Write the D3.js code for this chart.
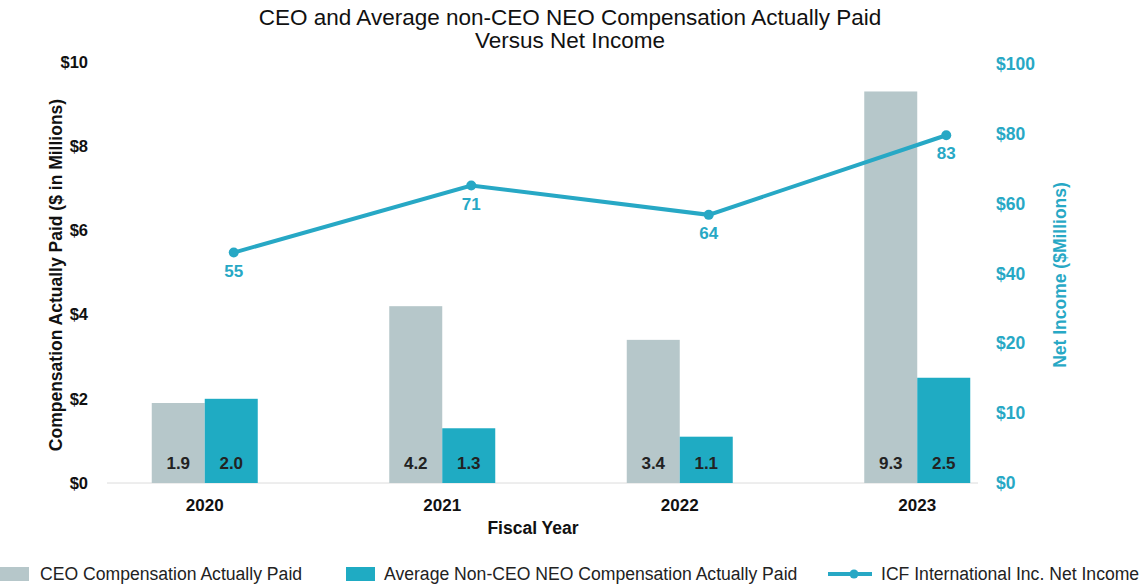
<!DOCTYPE html>
<html>
<head>
<meta charset="utf-8">
<script src="https://cdn.jsdelivr.net/npm/d3@7"></script>
<style>
  body { margin: 0; background: #fff; }
  text { font-family: "Liberation Sans", Arial, sans-serif; }
</style>
</head>
<body>
<div id="chart"></div>
<script>
const years = ['2020', '2021', '2022', '2023'];
const ceoPaid = [1.9, 4.2, 3.4, 9.3];
const neoPaid = [2.0, 1.3, 1.1, 2.5];
const netIncome = [55, 71, 64, 83];
const leftTicks = [0, 2, 4, 6, 8, 10];
const rightTickLabels = ['$0', '$10', '$20', '$40', '$60', '$80', '$100'];

const grey = '#b6c7ca';
const teal = '#1fabc3';
const lineColor = '#27a8c5';

const width = 1142, height = 586;
const plotTop = 62, plotBottom = 483;

const svg = d3.select('#chart').append('svg')
  .attr('width', width)
  .attr('height', height);

// title
svg.append('text').attr('x', 570).attr('y', 25).attr('text-anchor', 'middle')
  .style('font-size', '22.5px').style('fill', '#111')
  .text('CEO and Average non-CEO NEO Compensation Actually Paid');
svg.append('text').attr('x', 570).attr('y', 48).attr('text-anchor', 'middle')
  .style('font-size', '22.5px').style('fill', '#111')
  .text('Versus Net Income');

const x = d3.scaleBand().domain(years).range([86, 1036]);
const yLeft = d3.scaleLinear().domain([0, 10]).range([plotBottom, plotTop]);
const yRight = d3.scaleLinear().domain([0, 100]).range([plotBottom, 64]);
const yRightLabels = d3.scalePoint().domain(rightTickLabels).range([plotBottom, 64]);
const barW = 53;

// baseline
svg.append('line')
  .attr('x1', 107).attr('x2', 978)
  .attr('y1', plotBottom).attr('y2', plotBottom)
  .style('stroke', '#dcdcdc').style('stroke-width', 1);

// left axis
const gl = svg.append('g')
  .attr('transform', 'translate(107,0)')
  .call(d3.axisLeft(yLeft).tickValues(leftTicks).tickFormat(d => '$' + d).tickSize(0).tickPadding(19));
gl.select('.domain').remove();
gl.selectAll('text').style('font-size', '16.5px').style('font-weight', 'bold').style('fill', '#111')
  .style('font-family', '"Liberation Sans", Arial, sans-serif');

// right axis
const gr = svg.append('g')
  .attr('transform', 'translate(978,0)')
  .call(d3.axisRight(yRightLabels).tickSize(0).tickPadding(18));
gr.select('.domain').remove();
gr.selectAll('text').style('font-size', '17.5px').style('font-weight', 'bold').style('fill', lineColor)
  .style('font-family', '"Liberation Sans", Arial, sans-serif');

// x axis
const gx = svg.append('g')
  .attr('transform', 'translate(0,' + plotBottom + ')')
  .call(d3.axisBottom(x).tickSize(0).tickPadding(16));
gx.select('.domain').remove();
gx.selectAll('text').style('font-size', '17px').style('font-weight', 'bold').style('fill', '#111')
  .style('font-family', '"Liberation Sans", Arial, sans-serif');

// axis titles
svg.append('text')
  .attr('transform', 'translate(62,275) rotate(-90)')
  .attr('text-anchor', 'middle')
  .style('font-size', '17.5px').style('font-weight', 'bold').style('fill', '#111')
  .text('Compensation Actually Paid ($ in Millions)');
svg.append('text')
  .attr('transform', 'translate(1066,275) rotate(-90)')
  .attr('text-anchor', 'middle')
  .style('font-size', '17.5px').style('font-weight', 'bold').style('fill', lineColor)
  .text('Net Income ($Millions)');
svg.append('text')
  .attr('x', 533).attr('y', 534).attr('text-anchor', 'middle')
  .style('font-size', '17.5px').style('font-weight', 'bold').style('fill', '#111')
  .text('Fiscal Year');

// bars
const cx = d => x(d) + x.bandwidth() / 2;

svg.append('g').selectAll('rect')
  .data(years)
  .enter()
  .append('rect')
  .attr('x', (d) => cx(d) - barW)
  .attr('y', (d, i) => yLeft(ceoPaid[i]))
  .attr('width', barW)
  .attr('height', (d, i) => plotBottom - yLeft(ceoPaid[i]))
  .style('fill', grey);

svg.append('g').selectAll('rect')
  .data(years)
  .enter()
  .append('rect')
  .attr('x', (d) => cx(d))
  .attr('y', (d, i) => yLeft(neoPaid[i]))
  .attr('width', barW)
  .attr('height', (d, i) => plotBottom - yLeft(neoPaid[i]))
  .style('fill', teal);

// bar labels
svg.append('g').selectAll('text')
  .data(years)
  .enter()
  .append('text')
  .attr('x', (d) => cx(d) - barW / 2)
  .attr('y', 469)
  .attr('text-anchor', 'middle')
  .style('font-size', '17px').style('font-weight', 'bold').style('fill', '#222')
  .text((d, i) => ceoPaid[i].toFixed(1));

svg.append('g').selectAll('text')
  .data(years)
  .enter()
  .append('text')
  .attr('x', (d) => cx(d) + barW / 2)
  .attr('y', 469)
  .attr('text-anchor', 'middle')
  .style('font-size', '17px').style('font-weight', 'bold').style('fill', '#222')
  .text((d, i) => neoPaid[i].toFixed(1));

// net income line (sits a bit right of the group centre)
const lx = d => cx(d) + 29;
const line = d3.line()
  .x((d, i) => lx(years[i]))
  .y((d) => yRight(d));

svg.append('path')
  .datum(netIncome)
  .attr('d', line)
  .style('fill', 'none')
  .style('stroke', lineColor)
  .style('stroke-width', 4);

svg.append('g').selectAll('circle')
  .data(netIncome)
  .enter()
  .append('circle')
  .attr('cx', (d, i) => lx(years[i]))
  .attr('cy', (d) => yRight(d))
  .attr('r', 5)
  .style('fill', lineColor);

svg.append('g').selectAll('text')
  .data(netIncome)
  .enter()
  .append('text')
  .attr('x', (d, i) => lx(years[i]))
  .attr('y', (d) => yRight(d) + 24)
  .attr('text-anchor', 'middle')
  .style('font-size', '17px').style('font-weight', 'bold').style('fill', lineColor)
  .text((d) => d);

// legend
const lg = svg.append('g').attr('transform', 'translate(0,574)');
lg.append('rect').attr('x', 0).attr('y', -7).attr('width', 29).attr('height', 14).style('fill', grey);
lg.append('text').attr('x', 40).attr('y', 6).style('font-size', '17.6px').style('fill', '#222')
  .text('CEO Compensation Actually Paid');
lg.append('rect').attr('x', 346).attr('y', -7).attr('width', 29).attr('height', 14).style('fill', teal);
lg.append('text').attr('x', 384).attr('y', 6).style('font-size', '17.6px').style('fill', '#222')
  .text('Average Non-CEO NEO Compensation Actually Paid');
lg.append('line').attr('x1', 828).attr('x2', 872).attr('y1', 0).attr('y2', 0)
  .style('stroke', lineColor).style('stroke-width', 4);
lg.append('circle').attr('cx', 854).attr('cy', 0).attr('r', 4.5).style('fill', lineColor);
lg.append('text').attr('x', 881).attr('y', 6).style('font-size', '17.6px').style('fill', '#222')
  .text('ICF International Inc. Net Income');
</script>
</body>
</html>
